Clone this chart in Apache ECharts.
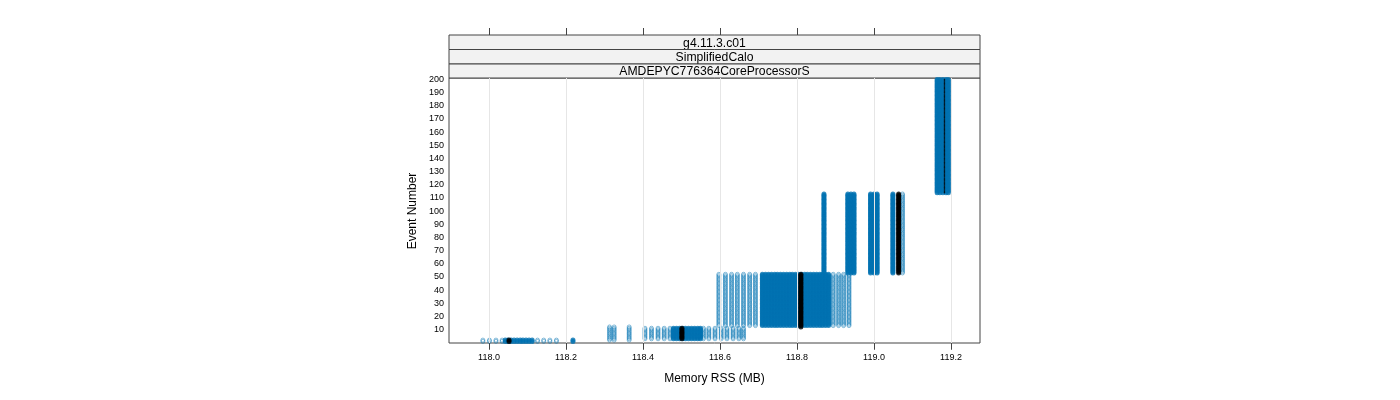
<!DOCTYPE html>
<html>
<head>
<meta charset="utf-8">
<script src="https://cdn.jsdelivr.net/npm/echarts@6/dist/echarts.min.js"></script>
<style>html,body{margin:0;padding:0;background:#fff}#c{width:1400px;height:400px}</style>
</head>
<body>
<div id="c"></div>
<script>
// ---- data (Memory RSS in MB per event) ----
const stripLabels = ['g4.11.3.c01', 'SimplifiedCalo', 'AMDEPYC776364CoreProcessorS'];
const xTicks = [118.0, 118.2, 118.4, 118.6, 118.8, 119.0, 119.2];
const yTicks = [10,20,30,40,50,60,70,80,90,100,110,120,130,140,150,160,170,180,190,200];

// groups of events; RSS values seen rarely (sparse) and many times (dense)
const g1Events = [1, 2];
const g1Sparse = [117.984, 118.001, 118.018, 118.034, 118.126, 118.142, 118.158, 118.175];
const g1Dense = [118.042, 118.049, 118.057, 118.065, 118.073, 118.081, 118.088, 118.096, 118.104, 118.112, 118.218];
const g2aEvents = [2, 12];
const g2aSparse = [118.313, 118.325, 118.364];
const g2bEvents = [3, 11];
const g2bSparse = [118.405, 118.422, 118.439, 118.455, 118.470, 118.557, 118.571, 118.587,
                   118.603, 118.618, 118.634, 118.649, 118.661];
const g2bDense = [118.479, 118.487, 118.495, 118.503, 118.510, 118.518, 118.526, 118.534, 118.542, 118.549];
const g3Events = [13, 52];
const g3Sparse = [118.597, 118.614, 118.630, 118.645, 118.661, 118.677, 118.692,
                  118.894, 118.908, 118.921, 118.935];
const g3Dense = [118.710, 118.718, 118.726, 118.734, 118.742, 118.749, 118.757, 118.765, 118.773,
                 118.781, 118.788, 118.796, 118.804, 118.812, 118.820, 118.827, 118.835, 118.843,
                 118.851, 118.859, 118.866, 118.874, 118.882];
const g4Events = [53, 113];
const g4Sparse = [119.074];
const g4Dense = [118.870, 118.932, 118.940, 118.948, 118.991, 119.000, 119.008, 119.049];
const g5Events = [114, 200];
const g5Dense = [119.164, 119.171, 119.179, 119.187, 119.193];

// reference (black) run
const refEvents = [[1, 2], [3, 11], [12, 52], [53, 113]];
const refRss = [118.052, 118.501, 118.810, 119.064];
const refLateEvents = [114, 200];
const refLateRss = 119.183;

// ---- build point lists ----
function cross(range, xs) {
  const out = [];
  for (let e = range[0]; e <= range[1]; e++) for (const x of xs) out.push([x, e]);
  return out;
}
const sparsePts = [].concat(
  cross(g1Events, g1Sparse), cross(g2aEvents, g2aSparse), cross(g2bEvents, g2bSparse),
  cross(g3Events, g3Sparse), cross(g4Events, g4Sparse));
const densePts = [].concat(
  cross(g1Events, g1Dense), cross(g2bEvents, g2bDense), cross(g3Events, g3Dense),
  cross(g4Events, g4Dense), cross(g5Events, g5Dense));
let blackPts = [];
refEvents.forEach((r, i) => { blackPts = blackPts.concat(cross(r, [refRss[i]])); });
const blackLatePts = cross(refLateEvents, [refLateRss]);

const GL = 449, GT = 78, GW = 531, GH = 265;
const chart = echarts.init(document.getElementById('c'), null, {renderer: 'canvas'});
const FONT = 'Liberation Sans, Arial, sans-serif';

const graphics = [];
const stripH = [35, 49.5, 64, 78];
for (let i = 0; i < 3; i++) {
  graphics.push({type: 'rect', shape: {x: GL, y: stripH[i], width: GW, height: stripH[i+1] - stripH[i]},
    style: {fill: '#F2F2F2', stroke: '#444', lineWidth: 1}});
  graphics.push({type: 'text', x: GL + GW / 2, y: (stripH[i] + stripH[i+1]) / 2 + 1,
    style: {text: stripLabels[i], fill: '#000', font: '12.2px ' + FONT, align: 'center', verticalAlign: 'middle'}});
}
graphics.push({type: 'text', x: GL + GW / 2, y: 378.5,
  style: {text: 'Memory RSS (MB)', fill: '#000', font: '12px ' + FONT, align: 'center', verticalAlign: 'middle'}});
graphics.push({type: 'text', x: 413, y: 211, rotation: Math.PI / 2,
  style: {text: 'Event Number', fill: '#000', font: '12px ' + FONT, align: 'center', verticalAlign: 'middle'}});

chart.setOption({
  animation: false,
  grid: {left: GL, top: GT, width: GW, height: GH, show: true, borderColor: '#444', borderWidth: 1, backgroundColor: 'transparent'},
  xAxis: [{
    type: 'value', min: 117.896, max: 119.2753, position: 'bottom',
    axisLine: {show: false},
    axisTick: {show: true, inside: false, length: 7, lineStyle: {color: '#444'}, customValues: xTicks},
    axisLabel: {show: true, customValues: xTicks, fontSize: 9, fontFamily: FONT, color: '#000', margin: 10,
      formatter: v => v.toFixed(1)},
    splitLine: {show: false}
  }, {
    type: 'value', min: 117.896, max: 119.2753, position: 'top', offset: 43,
    axisLine: {show: false},
    axisTick: {show: true, inside: false, length: 7, lineStyle: {color: '#444'}, customValues: xTicks},
    axisLabel: {show: false},
    splitLine: {show: false}
  }],
  yAxis: {
    type: 'value', min: -0.2, max: 201.1,
    axisLine: {show: false}, axisTick: {show: false},
    axisLabel: {customValues: yTicks, fontSize: 9, fontFamily: FONT, color: '#000', margin: 5},
    splitLine: {show: false}
  },
  graphic: graphics,
  series: [{
    type: 'line', data: [], z: 1, silent: true,
    markLine: {silent: true, symbol: 'none', label: {show: false},
      lineStyle: {color: '#E6E6E6', width: 1, type: 'solid'},
      data: xTicks.map(v => ({xAxis: v}))}
  }, {
    type: 'scatter', data: sparsePts, symbol: 'circle', symbolSize: 4, z: 2, clip: true,
    itemStyle: {color: 'rgba(0,0,0,0)', borderColor: 'rgba(0,114,178,0.6)', borderWidth: 1},
    silent: true
  }, {
    type: 'scatter', data: densePts, symbol: 'circle', symbolSize: 5, z: 2, clip: true,
    itemStyle: {color: '#0072B2', borderWidth: 0}, silent: true
  }, {
    type: 'scatter', data: blackPts, symbol: 'circle', symbolSize: 5, z: 3, clip: true,
    itemStyle: {color: '#000', borderWidth: 0}, silent: true
  }, {
    type: 'scatter', data: blackLatePts, symbol: 'circle', symbolSize: 1.6, z: 3, clip: true,
    itemStyle: {color: '#000'}, silent: true
  }]
});
</script>
</body>
</html>
